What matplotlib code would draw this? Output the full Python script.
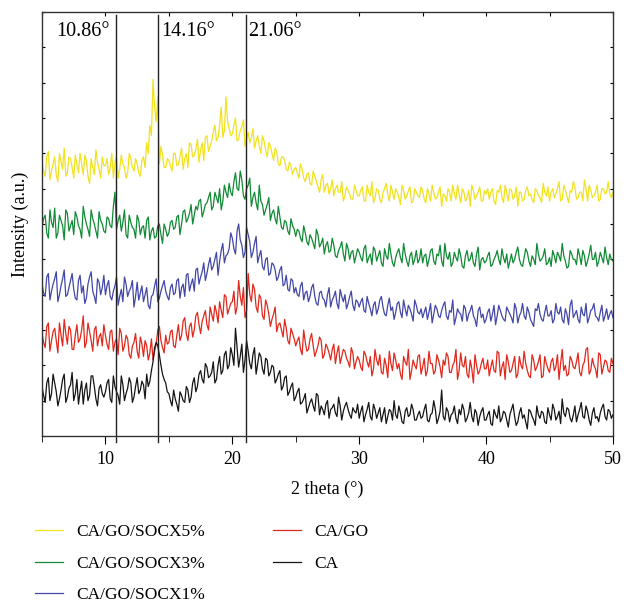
import numpy as np
from matplotlib import pyplot as plt

plt.rcParams['font.family'] = ['Liberation Serif', 'DejaVu Serif']

# 2 theta grid (deg): readings every 0.25 deg, plus readings halfway between
two_theta = np.arange(361) * 0.125 + 5.0

ca = [140, 95, 165, 120, 150, 85, 130, 175, 110, 145, 100, 160, 125, 90, 150, 115, 170, 105, 135, 120,
      125, 160, 95, 140, 115, 170, 100, 135, 150, 110, 165, 130, 145, 175, 155, 210, 265, 230, 175, 150,
      120, 85, 105, 70, 115, 95, 130, 110, 165, 140, 185, 150, 195, 170, 210, 160, 225, 185, 240, 200,
      230, 305, 195, 260, 215, 240, 190, 250, 205, 225, 175, 215, 180, 195, 160, 185, 140, 170, 125, 150,
      110, 135, 95, 120, 80, 105, 70, 115, 85, 60, 100, 75, 90, 55, 85, 70, 95, 60, 80, 65,
      50, 85, 60, 95, 45, 75, 65, 40, 80, 55, 70, 100, 50, 65, 35, 80, 60, 75, 45, 70,
      55, 90, 40, 65, 75, 50, 130, 45, 70, 60, 85, 35, 60, 75, 50, 95, 40, 65, 55, 80,
      45, 70, 30, 60, 85, 50, 65, 25, 75, 55, 40, 80, 60, 20, 70, 45, 85, 50, 65, 35,
      60, 90, 45, 70, 105, 55, 75, 40, 85, 60, 95, 50, 70, 30, 80, 55, 65, 90, 45, 70,
      60]
ca_mid = [115, 150, 100, 175, 125, 105, 160, 95, 135, 180, 120, 90, 155, 130, 100, 170, 140, 85, 145, 110,
          150, 105, 170, 125, 90, 145, 120, 165, 95, 140, 120, 155, 105, 140, 185, 250, 255, 200, 160, 125,
          100, 130, 90, 125, 100, 140, 95, 150, 125, 175, 160, 205, 165, 180, 150, 200, 175, 230, 190, 250,
          200, 250, 225, 180, 270, 205, 230, 175, 235, 190, 220, 170, 200, 150, 175, 130, 165, 115, 140, 100,
          125, 90, 105, 65, 95, 85, 120, 60, 75, 90, 50, 80, 65, 110, 45, 85, 75, 50, 70, 90,
          70, 40, 75, 55, 90, 50, 80, 60, 35, 75, 45, 60, 85, 40, 70, 55, 90, 45, 60, 50,
          75, 45, 60, 100, 35, 70, 55, 80, 40, 65, 50, 75, 90, 40, 65, 55, 75, 30, 70, 45,
          60, 35, 75, 50, 40, 70, 45, 60, 90, 30, 65, 50, 40, 75, 55, 30, 60, 70, 40, 80,
          45, 75, 55, 35, 65, 80, 50, 60, 40, 75, 55, 85, 45, 65, 50, 40, 80, 55, 75, 50]

ca_go = [290, 250, 320, 270, 305, 235, 285, 330, 260, 300, 245, 315, 275, 340, 265, 295, 240, 310, 280, 255,
         285, 245, 300, 265, 230, 290, 255, 275, 220, 265, 240, 280, 225, 255, 235, 215, 260, 310, 250, 285,
         265, 300, 250, 315, 285, 335, 270, 320, 300, 350, 290, 340, 315, 365, 325, 350, 380, 335, 395, 360,
         380, 345, 440, 370, 335, 460, 380, 415, 350, 390, 330, 370, 310, 345, 295, 320, 280, 305, 260, 290,
         255, 280, 230, 265, 245, 290, 225, 255, 270, 230, 250, 215, 260, 235, 205, 245, 220, 195, 235, 210,
         215, 185, 230, 195, 170, 245, 200, 180, 220, 165, 205, 235, 190, 175, 225, 200, 160, 215, 190, 230,
         195, 170, 240, 205, 185, 215, 165, 200, 225, 180, 210, 160, 235, 195, 175, 215, 150, 200, 185, 220,
         190, 170, 215, 180, 235, 195, 160, 210, 185, 225, 175, 200, 240, 185, 165, 215, 195, 230, 170, 205,
         180, 220, 195, 160, 245, 200, 175, 215, 190, 235, 170, 210, 250, 185, 200, 165, 230, 195, 210, 180,
         205]
ca_go_mid = [265, 310, 240, 295, 270, 320, 255, 290, 310, 245, 285, 265, 300, 250, 320, 270, 300, 255, 290, 315,
             260, 295, 240, 275, 305, 240, 285, 230, 255, 290, 220, 260, 270, 215, 275, 240, 300, 270, 235, 260,
             295, 255, 285, 270, 325, 290, 310, 280, 340, 315, 325, 355, 300, 345, 370, 320, 355, 400, 345, 375,
             410, 365, 395, 420, 355, 400, 430, 365, 400, 340, 385, 345, 330, 365, 315, 300, 330, 270, 305, 275,
             270, 245, 300, 240, 275, 255, 240, 280, 220, 260, 235, 245, 205, 255, 225, 240, 210, 250, 190, 225,
             195, 240, 210, 225, 190, 215, 230, 175, 200, 240, 185, 215, 205, 160, 210, 245, 185, 200, 225, 175,
             220, 185, 205, 175, 230, 195, 215, 235, 180, 200, 245, 185, 200, 225, 165, 190, 230, 175, 205, 190,
             215, 195, 185, 240, 170, 210, 230, 180, 205, 165, 225, 190, 205, 170, 230, 185, 210, 165, 225, 190,
             210, 185, 230, 205, 185, 170, 225, 195, 210, 180, 200, 245, 175, 220, 190, 235, 175, 215, 185, 220]

socx1 = [430, 395, 460, 410, 445, 380, 425, 470, 400, 440, 415, 385, 455, 425, 390, 450, 410, 375, 435, 420,
         400, 440, 385, 425, 370, 415, 450, 395, 420, 365, 435, 405, 380, 420, 360, 400, 445, 390, 425, 410,
         385, 430, 405, 445, 420, 395, 460, 430, 410, 475, 450, 490, 460, 505, 480, 520, 495, 545, 510, 530,
         560, 515, 600, 540, 520, 570, 505, 545, 490, 525, 470, 505, 460, 485, 440, 470, 425, 455, 410, 440,
         420, 395, 435, 405, 380, 420, 395, 370, 410, 385, 400, 365, 395, 375, 415, 380, 360, 395, 370, 385,
         365, 390, 350, 375, 340, 380, 360, 395, 345, 370, 355, 330, 375, 350, 385, 340, 360, 325, 370, 345,
         335, 365, 350, 320, 370, 340, 355, 380, 330, 350, 315, 360, 345, 370, 325, 355, 340, 310, 365, 345,
         330, 360, 345, 315, 370, 340, 325, 355, 335, 375, 320, 350, 340, 365, 330, 310, 355, 345, 325, 370,
         340, 320, 375, 345, 330, 360, 315, 385, 345, 330, 365, 340, 320, 355, 375, 335, 350, 325, 360, 345,
         335]
socx1_mid = [405, 450, 385, 430, 465, 400, 445, 395, 420, 460, 390, 440, 405, 375, 430, 465, 395, 445, 400, 455,
             425, 395, 410, 450, 395, 380, 430, 410, 440, 395, 385, 425, 400, 370, 395, 425, 380, 410, 440, 395,
             420, 400, 440, 390, 430, 455, 410, 445, 470, 430, 465, 440, 485, 470, 500, 455, 525, 490, 515, 575,
             530, 580, 555, 505, 590, 550, 520, 565, 510, 480, 500, 455, 490, 470, 450, 480, 430, 415, 445, 405,
             400, 425, 385, 410, 395, 430, 375, 405, 390, 365, 420, 385, 410, 360, 395, 400, 375, 410, 355, 380,
             380, 355, 395, 360, 370, 345, 385, 365, 340, 390, 365, 350, 380, 335, 360, 370, 345, 385, 350, 360,
             350, 330, 375, 345, 360, 335, 370, 340, 355, 385, 335, 350, 325, 360, 345, 370, 330, 355, 335, 320,
             350, 325, 370, 340, 355, 330, 365, 345, 320, 360, 340, 375, 330, 350, 320, 360, 375, 330, 350, 340,
             355, 330, 350, 365, 320, 345, 370, 335, 355, 320, 345, 375, 335, 360, 340, 325, 370, 340, 330, 355]

socx3 = [590, 625, 560, 605, 645, 575, 610, 555, 630, 595, 570, 620, 585, 650, 600, 565, 615, 580, 635, 600,
         575, 615, 590, 690, 610, 580, 640, 560, 605, 585, 625, 570, 595, 610, 555, 590, 565, 600, 545, 585,
         575, 610, 590, 625, 600, 640, 615, 655, 625, 640, 670, 635, 660, 690, 650, 675, 700, 665, 690, 715,
         680, 745, 695, 725, 670, 710, 650, 690, 640, 665, 625, 655, 610, 640, 600, 620, 585, 605, 570, 595,
         565, 580, 550, 575, 540, 560, 530, 570, 545, 515, 550, 525, 540, 505, 535, 515, 545, 500, 525, 510,
         520, 495, 540, 505, 485, 525, 510, 490, 530, 500, 515, 480, 520, 505, 545, 495, 510, 485, 525, 500,
         490, 515, 500, 530, 485, 510, 495, 545, 500, 480, 520, 495, 510, 475, 525, 500, 490, 515, 470, 505,
         495, 520, 485, 510, 500, 530, 490, 475, 515, 500, 535, 485, 505, 520, 480, 500, 545, 495, 510, 485,
         505, 525, 490, 510, 545, 495, 480, 515, 500, 530, 485, 510, 495, 540, 500, 480, 520, 490, 505, 515,
         495]
socx3_mid = [615, 575, 640, 590, 560, 625, 595, 640, 580, 610, 635, 595, 560, 620, 585, 640, 600, 560, 610, 580,
             620, 595, 650, 585, 625, 605, 570, 625, 590, 560, 610, 590, 560, 620, 580, 560, 595, 570, 600, 565,
             605, 585, 620, 570, 635, 605, 630, 600, 650, 665, 620, 655, 675, 640, 690, 660, 640, 710, 675, 690,
             720, 700, 750, 680, 700, 730, 675, 660, 710, 655, 640, 675, 630, 615, 650, 590, 610, 580, 615, 585,
             585, 560, 595, 550, 570, 545, 585, 535, 560, 540, 520, 560, 510, 525, 550, 495, 530, 520, 490, 530,
             505, 530, 490, 515, 535, 495, 525, 480, 510, 545, 490, 505, 530, 490, 515, 480, 520, 500, 490, 530,
             510, 480, 525, 495, 515, 540, 480, 510, 520, 490, 505, 530, 480, 510, 495, 520, 480, 535, 500, 490,
             510, 480, 500, 525, 485, 505, 515, 495, 490, 520, 500, 480, 530, 495, 510, 485, 515, 500, 530, 490,
             480, 510, 520, 495, 510, 475, 525, 500, 485, 510, 525, 480, 515, 500, 520, 495, 505, 535, 485, 500]

socx5 = [770, 735, 805, 750, 790, 720, 775, 815, 745, 785, 730, 770, 800, 740, 780, 715, 760, 810, 755, 790,
         765, 740, 800, 775, 730, 795, 760, 745, 785, 750, 770, 735, 790, 830, 880, 1010, 890, 770, 795, 760,
         780, 750, 800, 770, 815, 785, 760, 825, 795, 840, 810, 780, 850, 820, 860, 835, 880, 845, 960, 870,
         855, 900, 840, 875, 820, 860, 845, 815, 850, 800, 835, 790, 820, 780, 805, 765, 790, 755, 775, 740,
         760, 730, 755, 720, 745, 710, 735, 705, 725, 690, 715, 700, 680, 710, 690, 665, 705, 685, 670, 695,
         680, 705, 665, 690, 720, 675, 695, 660, 700, 685, 710, 670, 690, 655, 695, 680, 705, 665, 690, 675,
         695, 660, 685, 710, 670, 690, 650, 680, 700, 665, 685, 710, 660, 690, 675, 650, 695, 680, 705, 665,
         685, 670, 700, 655, 690, 675, 710, 665, 695, 680, 650, 690, 670, 705, 685, 660, 695, 675, 715, 680,
         665, 700, 685, 720, 670, 695, 660, 690, 705, 675, 690, 725, 665, 695, 680, 710, 670, 700, 690, 685,
         690]
socx5_mid = [750, 790, 725, 770, 740, 800, 755, 735, 790, 760, 795, 745, 770, 795, 735, 785, 740, 775, 730, 765,
             785, 760, 730, 790, 755, 770, 730, 800, 760, 785, 745, 780, 760, 800, 850, 930, 960, 820, 760, 785,
             765, 800, 765, 790, 755, 800, 830, 790, 810, 775, 830, 845, 805, 835, 880, 845, 930, 865, 890, 850,
             880, 835, 865, 895, 840, 830, 870, 835, 820, 850, 810, 830, 800, 815, 770, 790, 780, 750, 765, 755,
             745, 770, 730, 740, 715, 750, 720, 690, 740, 710, 685, 725, 700, 690, 720, 680, 695, 670, 710, 680,
             695, 665, 710, 680, 660, 700, 670, 690, 715, 665, 690, 700, 675, 710, 670, 695, 660, 700, 680, 705,
             670, 700, 665, 690, 675, 705, 685, 665, 690, 710, 670, 685, 700, 665, 695, 710, 670, 690, 665, 695,
             700, 690, 665, 695, 710, 660, 690, 700, 670, 705, 690, 665, 695, 680, 670, 700, 680, 660, 690, 705,
             690, 675, 700, 665, 710, 680, 695, 720, 670, 690, 665, 700, 710, 675, 690, 665, 700, 685, 720, 675]


def merge(main, mid):
    out = np.empty(len(main) + len(mid))
    out[0::2] = main
    out[1::2] = mid
    return out


series = [merge(socx5, socx5_mid), merge(socx3, socx3_mid), merge(socx1, socx1_mid),
          merge(ca_go, ca_go_mid), merge(ca, ca_mid)]
labels = ['CA/GO/SOCX5%', 'CA/GO/SOCX3%', 'CA/GO/SOCX1%', 'CA/GO', 'CA']
colors = ['#f2e21e', '#108a35', '#4347a6', '#e0281c', '#151515']

peaks = [10.86, 14.16, 21.06]
peak_labels = ['10.86°', '14.16°', '21.06°']

#--------------------------------------------------
fig = plt.figure(figsize=(6.24, 6.03), dpi=100)
ax = fig.add_axes([0.0673, 0.277, 0.915, 0.703])

for y, lab, c in zip(series, labels, colors):
    ax.plot(two_theta, y, '-', color=c, lw=0.9, label=lab)

for p in peaks:
    ax.axvline(p, ymin=-0.015, ymax=0.993, color='#222222', lw=1.0, clip_on=False)

ax.text(peaks[0] - 0.5, 1145, peak_labels[0], ha='right', va='center', fontsize=14.5)
ax.text(peaks[1] + 0.2, 1145, peak_labels[1], ha='left', va='center', fontsize=14.5)
ax.text(peaks[2] + 0.2, 1145, peak_labels[2], ha='left', va='center', fontsize=14.5)

ax.set_xlim(5, 50)
ax.set_ylim(0, 1200)
ax.set_xticks([10, 20, 30, 40, 50])
ax.set_xticks([5, 15, 25, 35, 45], minor=True)
ax.set_yticks(np.arange(0, 1201, 100))
ax.set_yticklabels([])
ax.tick_params(axis='x', which='major', direction='out', length=6, labelsize=13, pad=5)
ax.tick_params(axis='x', which='minor', direction='out', length=4)
ax.tick_params(axis='y', direction='in', length=2, right=True)
ax.tick_params(axis='x', which='both', top=False)
sec = ax.secondary_xaxis('top')
sec.set_xticks([5, 10, 15, 20, 25, 30, 35, 40, 45, 50])
sec.set_xticklabels([])
sec.tick_params(direction='in', length=3)
for s in ax.spines.values():
    s.set_color('#333333')
    s.set_linewidth(1.0)
sec.spines['top'].set_visible(False)

ax.set_xlabel('2 theta (°)', fontsize=13, labelpad=9)
ax.set_ylabel('Intensity (a.u.)', fontsize=13, labelpad=6)

fig.legend(loc='upper left', bbox_to_anchor=(0.045, 0.143), ncol=2, frameon=False,
           fontsize=12.5, handlelength=1.6, handletextpad=0.75, columnspacing=3.95,
           labelspacing=0.9, borderaxespad=0)

plt.savefig('out.png', dpi=100)
